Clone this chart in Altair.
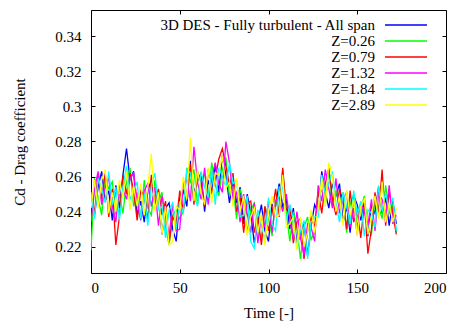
import altair as alt
import pandas as pd

time = list(range(0, 173, 2))

labels = ["3D DES - Fully turbulent - All span", "Z=0.26", "Z=0.79",
          "Z=1.32", "Z=1.84", "Z=2.89"]
colors = ["#0000ff", "#00ff00", "#ff0000", "#ff00ff", "#00ffff", "#ffff00"]

cd_all = [0.253, 0.238, 0.254, 0.263, 0.246, 0.252, 0.235, 0.255, 0.242, 0.261,
          0.276, 0.258, 0.263, 0.238, 0.246, 0.234, 0.252, 0.258, 0.245, 0.248,
          0.227, 0.242, 0.245, 0.230, 0.223, 0.248, 0.252, 0.243, 0.269, 0.251,
          0.257, 0.262, 0.240, 0.258, 0.251, 0.267, 0.251, 0.272, 0.261, 0.245,
          0.258, 0.245, 0.254, 0.233, 0.250, 0.239, 0.222, 0.234, 0.244, 0.229,
          0.223, 0.244, 0.243, 0.256, 0.243, 0.247, 0.230, 0.242, 0.221, 0.227,
          0.234, 0.215, 0.232, 0.244, 0.239, 0.263, 0.251, 0.242, 0.256, 0.249,
          0.256, 0.234, 0.243, 0.228, 0.249, 0.244, 0.235, 0.246, 0.226, 0.244,
          0.239, 0.254, 0.239, 0.248, 0.232, 0.246, 0.233]

cd_z026 = [0.218, 0.259, 0.248, 0.238, 0.259, 0.253, 0.257, 0.238, 0.250, 0.239,
           0.257, 0.265, 0.243, 0.251, 0.236, 0.258, 0.242, 0.238, 0.258, 0.246,
           0.251, 0.231, 0.221, 0.238, 0.241, 0.236, 0.240, 0.265, 0.257, 0.264,
           0.244, 0.256, 0.262, 0.247, 0.268, 0.255, 0.249, 0.264, 0.271, 0.249,
           0.254, 0.236, 0.253, 0.245, 0.228, 0.241, 0.245, 0.229, 0.225, 0.243,
           0.236, 0.226, 0.247, 0.241, 0.264, 0.240, 0.223, 0.240, 0.231, 0.213,
           0.231, 0.237, 0.224, 0.229, 0.253, 0.252, 0.245, 0.264, 0.244, 0.252,
           0.244, 0.251, 0.228, 0.244, 0.250, 0.231, 0.241, 0.249, 0.230, 0.227,
           0.247, 0.243, 0.236, 0.255, 0.239, 0.244, 0.228]

cd_z079 = [0.248, 0.239, 0.262, 0.247, 0.262, 0.237, 0.253, 0.221, 0.237, 0.261,
           0.250, 0.262, 0.252, 0.235, 0.252, 0.249, 0.235, 0.261, 0.244, 0.253,
           0.238, 0.246, 0.222, 0.237, 0.233, 0.252, 0.241, 0.250, 0.267, 0.244,
           0.263, 0.257, 0.243, 0.264, 0.250, 0.259, 0.270, 0.276, 0.266, 0.255,
           0.262, 0.240, 0.248, 0.228, 0.245, 0.246, 0.228, 0.237, 0.221, 0.243,
           0.229, 0.239, 0.253, 0.237, 0.265, 0.241, 0.243, 0.222, 0.234, 0.236,
           0.213, 0.229, 0.237, 0.231, 0.252, 0.239, 0.256, 0.265, 0.247, 0.238,
           0.253, 0.246, 0.230, 0.252, 0.234, 0.241, 0.225, 0.245, 0.216, 0.230,
           0.251, 0.238, 0.264, 0.232, 0.252, 0.239, 0.227]

cd_z132 = [0.234, 0.253, 0.263, 0.244, 0.254, 0.259, 0.243, 0.234, 0.255, 0.253,
           0.247, 0.259, 0.262, 0.246, 0.235, 0.252, 0.256, 0.243, 0.254, 0.232,
           0.249, 0.237, 0.226, 0.244, 0.229, 0.230, 0.256, 0.258, 0.246, 0.277,
           0.257, 0.247, 0.265, 0.244, 0.259, 0.268, 0.256, 0.251, 0.280, 0.268,
           0.247, 0.251, 0.234, 0.250, 0.239, 0.228, 0.245, 0.222, 0.238, 0.231,
           0.246, 0.228, 0.246, 0.248, 0.240, 0.250, 0.236, 0.224, 0.240, 0.225,
           0.215, 0.233, 0.231, 0.223, 0.255, 0.246, 0.264, 0.253, 0.242, 0.259,
           0.239, 0.247, 0.251, 0.231, 0.242, 0.227, 0.245, 0.240, 0.232, 0.247,
           0.229, 0.250, 0.247, 0.237, 0.255, 0.233, 0.238]

cd_z184 = [0.251, 0.236, 0.259, 0.253, 0.245, 0.263, 0.244, 0.254, 0.235, 0.254,
           0.266, 0.247, 0.251, 0.257, 0.236, 0.250, 0.232, 0.255, 0.262, 0.241,
           0.243, 0.225, 0.241, 0.245, 0.230, 0.246, 0.239, 0.264, 0.262, 0.249,
           0.243, 0.263, 0.254, 0.248, 0.264, 0.244, 0.265, 0.260, 0.254, 0.268,
           0.256, 0.258, 0.237, 0.238, 0.249, 0.223, 0.219, 0.241, 0.232, 0.224,
           0.248, 0.233, 0.229, 0.254, 0.254, 0.235, 0.244, 0.235, 0.219, 0.229,
           0.235, 0.213, 0.234, 0.237, 0.237, 0.261, 0.250, 0.256, 0.263, 0.245,
           0.234, 0.251, 0.243, 0.233, 0.252, 0.238, 0.246, 0.226, 0.241, 0.239,
           0.231, 0.255, 0.240, 0.251, 0.240, 0.248, 0.229]

cd_z289 = [0.242, 0.258, 0.242, 0.258, 0.264, 0.239, 0.251, 0.240, 0.258, 0.248,
           0.263, 0.241, 0.255, 0.243, 0.256, 0.238, 0.254, 0.273, 0.240, 0.251,
           0.227, 0.243, 0.221, 0.223, 0.243, 0.241, 0.260, 0.247, 0.282, 0.246,
           0.264, 0.251, 0.244, 0.265, 0.245, 0.262, 0.261, 0.272, 0.253, 0.257,
           0.243, 0.259, 0.240, 0.249, 0.226, 0.237, 0.242, 0.228, 0.239, 0.221,
           0.240, 0.249, 0.237, 0.238, 0.261, 0.231, 0.233, 0.237, 0.218, 0.237,
           0.220, 0.228, 0.241, 0.228, 0.242, 0.259, 0.243, 0.268, 0.260, 0.240,
           0.249, 0.232, 0.252, 0.238, 0.247, 0.226, 0.243, 0.247, 0.227, 0.238,
           0.249, 0.236, 0.257, 0.234, 0.245, 0.234, 0.242]

series = [cd_all, cd_z026, cd_z079, cd_z132, cd_z184, cd_z289]

rows = []
for lab, vals in zip(labels, series):
    for t, v in zip(time, vals):
        rows.append({"time": t, "cd": v, "series": lab})
df = pd.DataFrame(rows)

FONT = "Liberation Serif"
x_scale = alt.Scale(domain=[0, 200], nice=False, zero=False)
y_scale = alt.Scale(domain=[0.205, 0.355], nice=False, zero=False)
x_ticks = [0, 50, 100, 150, 200]
y_ticks = [0.22, 0.24, 0.26, 0.28, 0.30, 0.32, 0.34]

lines = alt.Chart(df).mark_line(strokeWidth=1.3, clip=True).encode(
    x=alt.X("time:Q", scale=x_scale,
            axis=alt.Axis(orient="bottom", values=x_ticks, format="d",
                          title="Time [-]", offset=-4, tickSize=4,
                          domain=False, grid=False, labelPadding=7,
                          titlePadding=10)),
    y=alt.Y("cd:Q", scale=y_scale,
            axis=alt.Axis(orient="left", values=y_ticks, format=".2~f",
                          title="Cd - Drag coefficient", offset=-4,
                          tickSize=4, domain=False, grid=False,
                          labelPadding=10, titlePadding=27)),
    color=alt.Color("series:N",
                    scale=alt.Scale(domain=labels, range=colors),
                    legend=alt.Legend(title=None, orient="none",
                                      legendX=307, legendY=7,
                                      symbolType="M-3,0H3", symbolSize=196,
                                      symbolStrokeWidth=1.5,
                                      rowPadding={"expr": "-1"},
                                      labelAlign="right",
                                      labelOffset={"expr": "-39"},
                                      labelLimit=400,
                                      labelFont=FONT, labelFontSize=15,
                                      labelColor="black", padding=0)),
)

mirror = alt.Chart(df).mark_point(opacity=0).encode(
    x=alt.X("time:Q", scale=x_scale,
            axis=alt.Axis(orient="top", values=x_ticks, labels=False,
                          title=None, offset=-4, tickSize=4, domain=False,
                          grid=False)),
    y=alt.Y("cd:Q", scale=y_scale,
            axis=alt.Axis(orient="right", values=y_ticks, labels=False,
                          title=None, offset=-4, tickSize=4, domain=False,
                          grid=False)),
)

chart = alt.layer(lines, mirror).resolve_axis(
    x="independent", y="independent"
).properties(
    width=355, height=263,
    autosize=alt.AutoSizeParams(type="none"),
    padding={"left": 91, "top": 10, "right": 13, "bottom": 54},
    background="white",
).configure_view(
    stroke="black", strokeWidth=1
).configure_axis(
    labelFont=FONT, labelFontSize=15, labelColor="black",
    titleFont=FONT, titleFontSize=15, titleColor="black",
    titleFontWeight="normal", tickColor="black", tickWidth=1,
)

chart.save("out.html", embed_options={"renderer": "svg", "actions": False})
